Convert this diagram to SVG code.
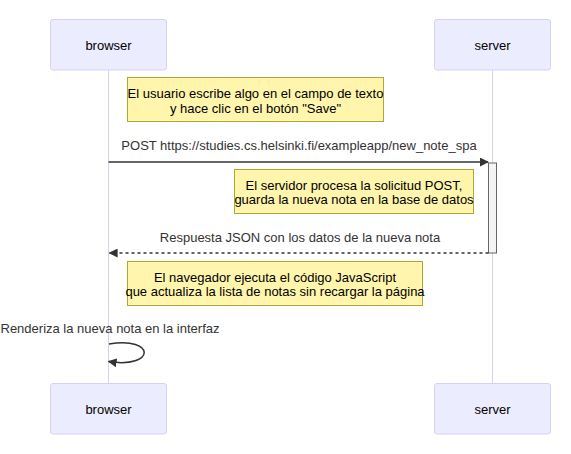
<svg xmlns="http://www.w3.org/2000/svg" width="571" height="454" viewBox="0 0 571 454">
<style>
.actor{fill:#ECECFF;stroke:#d9d0f5;stroke-width:1}
.atext{font-family:"Liberation Sans",Arial,sans-serif;font-size:13px;fill:#000;text-anchor:middle}
.life{stroke:#d9d0f5;stroke-width:1}
.note{fill:#fff5ad;stroke:#aaaa33;stroke-width:1}
.ntext{font-family:"Liberation Sans",Arial,sans-serif;font-size:13px;fill:#000;text-anchor:middle}
.mtext{font-family:"Liberation Sans",Arial,sans-serif;font-size:13px;fill:#333;text-anchor:middle}
.msg{stroke:#333;stroke-width:1.5;fill:none}
.act{fill:#f4f4f4;stroke:#666;stroke-width:1}
</style>
<defs>
<marker id="arrow" viewBox="0 0 10 10" refX="9" refY="5" markerUnits="userSpaceOnUse" markerWidth="9" markerHeight="9" orient="auto">
<path d="M0,0 L10,5 L0,10 z" fill="#333"/>
</marker>
</defs>
<g id="lifelines">
<line class="life" x1="108.5" y1="70" x2="108.5" y2="383"/>
<line class="life" x1="492.5" y1="70" x2="492.5" y2="383"/>
</g>
<g id="browser-top">
<rect class="actor" x="50.5" y="19.5" width="116" height="50.5" rx="2.5"/>
<text class="atext" x="108.5" y="49.5">browser</text>
</g>
<g id="server-top">
<rect class="actor" x="434.5" y="19.5" width="116" height="50.5" rx="2.5"/>
<text class="atext" x="492.5" y="49.5">server</text>
</g>
<g id="browser-bottom">
<rect class="actor" x="50.5" y="383.5" width="116" height="50.5" rx="2.5"/>
<text class="atext" x="108.5" y="413.5">browser</text>
</g>
<g id="server-bottom">
<rect class="actor" x="434.5" y="383.5" width="116" height="50.5" rx="2.5"/>
<text class="atext" x="492.5" y="413.5">server</text>
</g>
<g id="activation">
<rect class="act" x="488.5" y="163" width="8" height="90"/>
</g>
<g id="note1">
<rect class="note" x="127.5" y="77.5" width="256" height="44"/>
<text class="ntext" x="255.5" y="97.5">El usuario escribe algo en el campo de texto</text>
<text class="ntext" x="255.5" y="112.5">y hace clic en el botón "Save"</text>
</g>
<g id="note2">
<rect class="note" x="234.5" y="169.5" width="239" height="44"/>
<text class="ntext" x="354" y="189.5">El servidor procesa la solicitud POST,</text>
<text class="ntext" x="354" y="204">guarda la nueva nota en la base de datos</text>
</g>
<g id="note3">
<rect class="note" x="127.5" y="261.5" width="295" height="44"/>
<text class="ntext" x="275" y="281.5">El navegador ejecuta el código JavaScript</text>
<text class="ntext" x="275" y="296">que actualiza la lista de notas sin recargar la página</text>
</g>
<g id="connectors">
<text class="mtext" x="299" y="149.5">POST https://studies.cs.helsinki.fi/exampleapp/new_note_spa</text>
<line class="msg" x1="108.5" y1="162" x2="488" y2="162" marker-end="url(#arrow)"/>
<text class="mtext" x="300" y="241.5">Respuesta JSON con los datos de la nueva nota</text>
<line class="msg" x1="488.5" y1="253" x2="109.5" y2="253" stroke-dasharray="3,3" marker-end="url(#arrow)"/>
<text class="mtext" x="110" y="332.5">Renderiza la nueva nota en la interfaz</text>
<path class="msg" d="M109,344 C156,336 156,369 108.5,361.5" marker-end="url(#arrow)"/>
</g>
</svg>
